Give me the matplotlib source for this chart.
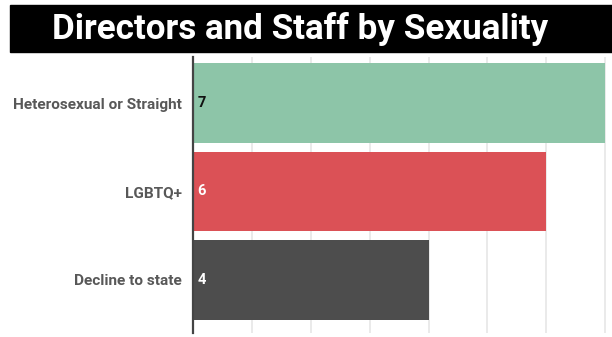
import matplotlib.pyplot as plt
from matplotlib.patches import Rectangle

plt.rcParams['font.family'] = ['Roboto', 'DejaVu Sans']

# Datos
categorias = ['Heterosexual or Straight', 'LGBTQ+', 'Decline to state']
valores = [7, 6, 4]
colores = ['#8dc5a8', '#db5156', '#4d4d4d']
colores_texto = ['#111111', 'white', 'white']

fig = plt.figure(figsize=(6.12, 3.37), dpi=100)

# Banda negra del título
fig.patches.append(Rectangle((10 / 612, 1 - 52 / 337), 1, 47 / 337,
                             transform=fig.transFigure, color='black', zorder=0))
fig.text(300 / 612, 1 - 29 / 337, 'Directors and Staff by Sexuality',
         color='white', fontsize=25.2, fontweight='bold', ha='center', va='center')

ax = fig.add_axes([193 / 612, 4 / 337, 417 / 612, 276 / 337])
y = range(len(categorias))
ax.barh(y, valores, height=0.9, color=colores, zorder=2)

for i, v in enumerate(valores):
    ax.text(0.08, i, str(v), color=colores_texto[i], fontsize=10.5,
            fontweight='bold', va='center', ha='left', zorder=3)

ax.set_xlim(0, 7.08)
ax.set_ylim(2.6, -0.52)
ax.set_xticks(range(1, 8))
ax.xaxis.grid(True, color='#e6e6e6', linewidth=1.2, zorder=0)
ax.tick_params(axis='x', length=0, labelbottom=False)
ax.set_yticks(list(y))
ax.set_yticklabels(categorias, fontsize=11.1, fontweight='bold', color='#585858')
ax.tick_params(axis='y', length=0, pad=8)

for s in ['top', 'right', 'bottom']:
    ax.spines[s].set_visible(False)
ax.spines['left'].set_color('#444444')
ax.spines['left'].set_linewidth(1.6)
ax.spines['left'].set_zorder(4)

plt.savefig('out.png', dpi=100)
